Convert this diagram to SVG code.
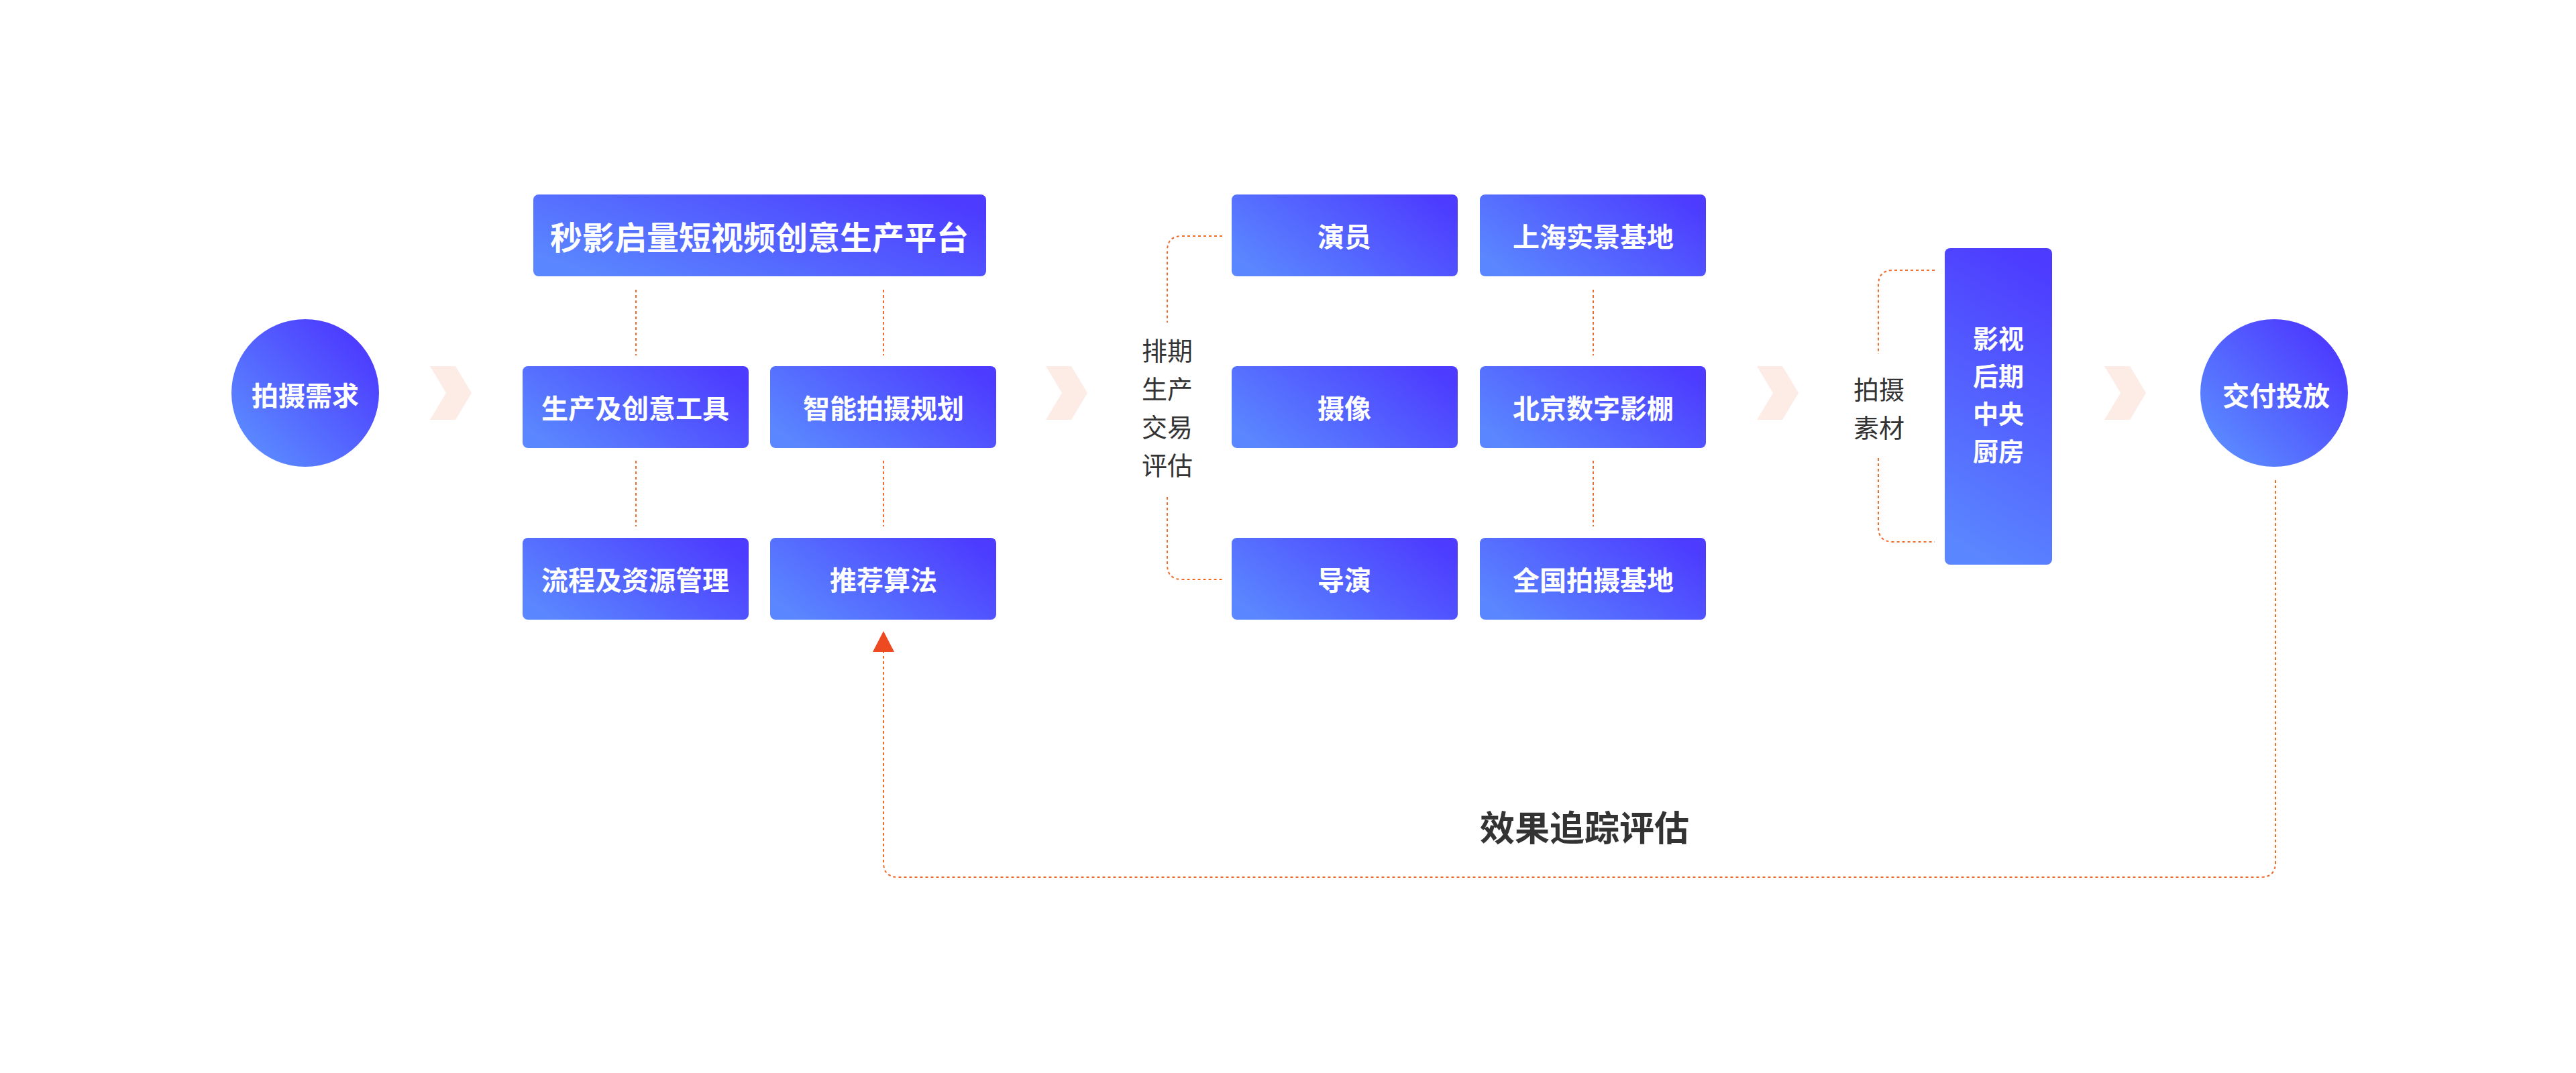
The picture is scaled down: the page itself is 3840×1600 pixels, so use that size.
<svg xmlns="http://www.w3.org/2000/svg" width="3840" height="1600" viewBox="0 0 3840 1600">
<defs>
<linearGradient id="gBox" x1="0" y1="0.75" x2="1" y2="0.25">
<stop offset="0" stop-color="#5a87ff"/>
<stop offset="1" stop-color="#4d3cff"/>
</linearGradient>
<linearGradient id="gCircle" x1="0.15" y1="0.85" x2="0.85" y2="0.15">
<stop offset="0" stop-color="#5a87ff"/>
<stop offset="1" stop-color="#4d3cff"/>
</linearGradient>
<linearGradient id="gTall" x1="0.4" y1="1" x2="0.6" y2="0">
<stop offset="0" stop-color="#5a87ff"/>
<stop offset="1" stop-color="#4d3cff"/>
</linearGradient>
<path id="chev" d="M0,0 H38 L62,40 L38,80 H0 L24,40 Z"/>
<style>
.box{fill:url(#gBox);}
.wt{font-family:"Noto Sans CJK SC","Noto Sans",sans-serif;font-weight:700;fill:#ffffff;text-anchor:middle;dominant-baseline:central;}
.gt{font-family:"Noto Sans CJK SC","Noto Sans",sans-serif;font-weight:400;fill:#333333;text-anchor:middle;dominant-baseline:central;font-size:38px;}
.dash{fill:none;stroke:#ef6a2c;stroke-width:2;stroke-dasharray:4 4;}
.chev{fill:#fdece5;}
</style>
</defs>
<rect width="3840" height="1600" fill="#ffffff"/>

<g id="chevrons">
<use href="#chev" class="chev" x="641" y="546"/>
<use href="#chev" class="chev" x="1559" y="546"/>
<use href="#chev" class="chev" x="2619" y="546"/>
<use href="#chev" class="chev" x="3137" y="546"/>
</g>

<g id="connectors">
<line class="dash" x1="948" y1="432" x2="948" y2="530"/>
<line class="dash" x1="1317" y1="432" x2="1317" y2="530"/>
<line class="dash" x1="948" y1="687" x2="948" y2="785"/>
<line class="dash" x1="1317" y1="687" x2="1317" y2="785"/>
<line class="dash" x1="2375" y1="432" x2="2375" y2="530"/>
<line class="dash" x1="2375" y1="687" x2="2375" y2="785"/>
<path class="dash" d="M1822,352 H1762 Q1740,352 1740,374 V481"/>
<path class="dash" d="M1740,741 V842 Q1740,864 1762,864 H1822"/>
<path class="dash" d="M2884,403 H2822 Q2800,403 2800,425 V528"/>
<path class="dash" d="M2800,683 V786 Q2800,808 2822,808 H2884"/>
<path class="dash" d="M3392,716 V1286 Q3392,1308 3370,1308 H1339 Q1317,1308 1317,1286 V972"/>
<polygon points="1317,941 1301,972 1333,972" fill="#ee4a22"/>
</g>

<g id="n-demand">
<circle cx="455" cy="586" r="110" fill="url(#gCircle)"/>
<text class="wt" x="455" y="588" font-size="40">拍摄需求</text>
</g>

<g id="n-platform">
<rect class="box" x="795" y="290" width="675" height="122" rx="8"/>
<text class="wt" x="1132" y="351" font-size="48">秒影启量短视频创意生产平台</text>
</g>
<g id="n-tools">
<rect class="box" x="779" y="546" width="337" height="122" rx="8"/>
<text class="wt" x="947" y="607" font-size="40">生产及创意工具</text>
</g>
<g id="n-planning">
<rect class="box" x="1148" y="546" width="337" height="122" rx="8"/>
<text class="wt" x="1317" y="607" font-size="40">智能拍摄规划</text>
</g>
<g id="n-process">
<rect class="box" x="779" y="802" width="337" height="122" rx="8"/>
<text class="wt" x="947" y="863" font-size="40">流程及资源管理</text>
</g>
<g id="n-algo">
<rect class="box" x="1148" y="802" width="337" height="122" rx="8"/>
<text class="wt" x="1317" y="863" font-size="40">推荐算法</text>
</g>

<g id="n-schedule-label">
<text class="gt" x="1740" y="520">排期</text>
<text class="gt" x="1740" y="577">生产</text>
<text class="gt" x="1740" y="634">交易</text>
<text class="gt" x="1740" y="691">评估</text>
</g>

<g id="n-actor">
<rect class="box" x="1836" y="290" width="337" height="122" rx="8"/>
<text class="wt" x="2004" y="351" font-size="40">演员</text>
</g>
<g id="n-camera">
<rect class="box" x="1836" y="546" width="337" height="122" rx="8"/>
<text class="wt" x="2004" y="607" font-size="40">摄像</text>
</g>
<g id="n-director">
<rect class="box" x="1836" y="802" width="337" height="122" rx="8"/>
<text class="wt" x="2004" y="863" font-size="40">导演</text>
</g>
<g id="n-shanghai">
<rect class="box" x="2206" y="290" width="337" height="122" rx="8"/>
<text class="wt" x="2375" y="351" font-size="40">上海实景基地</text>
</g>
<g id="n-beijing">
<rect class="box" x="2206" y="546" width="337" height="122" rx="8"/>
<text class="wt" x="2375" y="607" font-size="40">北京数字影棚</text>
</g>
<g id="n-national">
<rect class="box" x="2206" y="802" width="337" height="122" rx="8"/>
<text class="wt" x="2375" y="863" font-size="40">全国拍摄基地</text>
</g>

<g id="n-material-label">
<text class="gt" x="2801" y="578">拍摄</text>
<text class="gt" x="2801" y="635">素材</text>
</g>

<g id="n-kitchen">
<rect x="2899" y="370" width="160" height="472" rx="8" fill="url(#gTall)"/>
<text class="wt" x="2979" y="502" font-size="38">影视</text>
<text class="wt" x="2979" y="558" font-size="38">后期</text>
<text class="wt" x="2979" y="614" font-size="38">中央</text>
<text class="wt" x="2979" y="670" font-size="38">厨房</text>
</g>

<g id="n-delivery">
<circle cx="3390" cy="586" r="110" fill="url(#gCircle)"/>
<text class="wt" x="3393" y="588" font-size="40">交付投放</text>
</g>

<g id="feedback-label">
<text x="2362" y="1231" font-family="'Noto Sans CJK SC','Noto Sans',sans-serif" font-weight="700" font-size="52" fill="#333333" text-anchor="middle" dominant-baseline="central">效果追踪评估</text>
</g>
</svg>
